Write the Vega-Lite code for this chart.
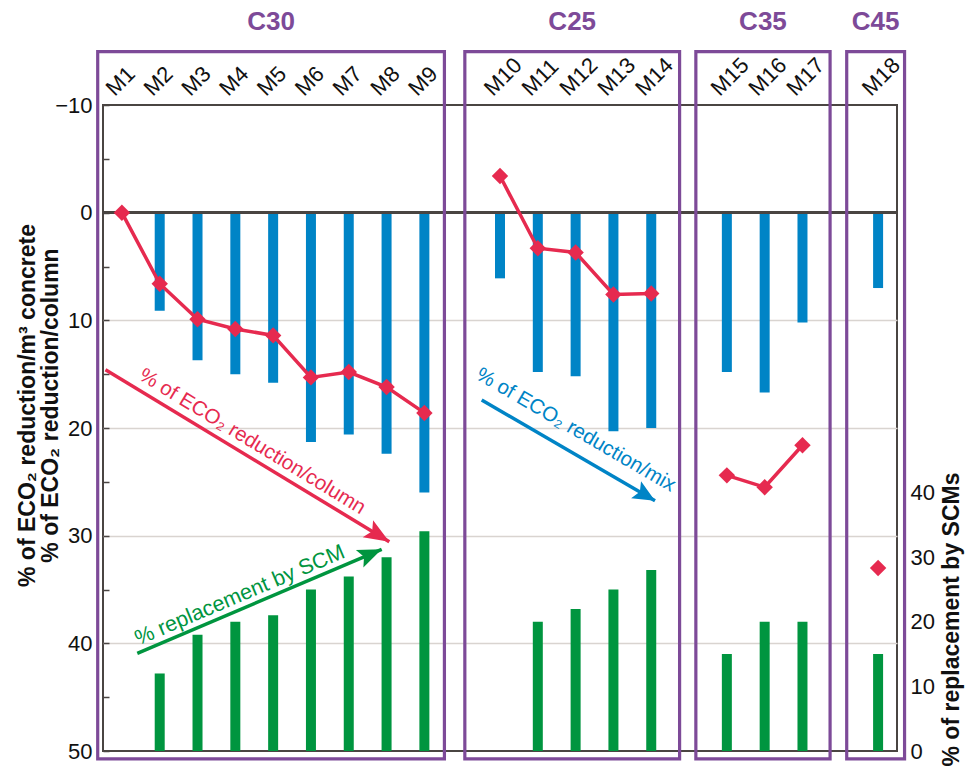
{
  "$schema": "https://vega.github.io/schema/vega-lite/v6.json",
  "width": 794,
  "height": 646,
  "autosize": {"type": "none"},
  "padding": {"left": 103, "top": 105, "right": 76, "bottom": 17},
  "background": "#ffffff",
  "config": {
    "font": "Liberation Sans",
    "view": {"stroke": "#4a4542", "strokeWidth": 2},
    "axis": {"labelFont": "Liberation Sans", "titleFont": "Liberation Sans", "labelColor": "#111111", "titleColor": "#111111"},
    "text": {"font": "Liberation Sans"}
  },
  "datasets": {
    "mixes": [
      {"mix": "M1", "class": "C30", "eco2_mix": null, "eco2_column": 0, "scm_replacement": null},
      {"mix": "M2", "class": "C30", "eco2_mix": 9.1, "eco2_column": 6.6, "scm_replacement": 12},
      {"mix": "M3", "class": "C30", "eco2_mix": 13.7, "eco2_column": 9.9, "scm_replacement": 18},
      {"mix": "M4", "class": "C30", "eco2_mix": 15.0, "eco2_column": 10.8, "scm_replacement": 20},
      {"mix": "M5", "class": "C30", "eco2_mix": 15.8, "eco2_column": 11.4, "scm_replacement": 21},
      {"mix": "M6", "class": "C30", "eco2_mix": 21.3, "eco2_column": 15.3, "scm_replacement": 25},
      {"mix": "M7", "class": "C30", "eco2_mix": 20.6, "eco2_column": 14.8, "scm_replacement": 27},
      {"mix": "M8", "class": "C30", "eco2_mix": 22.4, "eco2_column": 16.2, "scm_replacement": 30},
      {"mix": "M9", "class": "C30", "eco2_mix": 26.0, "eco2_column": 18.6, "scm_replacement": 34},
      {"mix": "M10", "class": "C25", "eco2_mix": 6.1, "eco2_column": -3.4, "scm_replacement": null},
      {"mix": "M11", "class": "C25", "eco2_mix": 14.8, "eco2_column": 3.3, "scm_replacement": 20},
      {"mix": "M12", "class": "C25", "eco2_mix": 15.2, "eco2_column": 3.7, "scm_replacement": 22},
      {"mix": "M13", "class": "C25", "eco2_mix": 20.3, "eco2_column": 7.6, "scm_replacement": 25},
      {"mix": "M14", "class": "C25", "eco2_mix": 20.0, "eco2_column": 7.5, "scm_replacement": 28},
      {"mix": "M15", "class": "C35", "eco2_mix": 14.8, "eco2_column": 24.4, "scm_replacement": 15},
      {"mix": "M16", "class": "C35", "eco2_mix": 16.7, "eco2_column": 25.5, "scm_replacement": 20},
      {"mix": "M17", "class": "C35", "eco2_mix": 10.2, "eco2_column": 21.6, "scm_replacement": 20},
      {"mix": "M18", "class": "C45", "eco2_mix": 7.0, "eco2_column": 33.0, "scm_replacement": 15}
    ],
    "classes": [
      {"class": "C30", "from": 0.36, "to": 9.53, "center": 4.945},
      {"class": "C25", "from": 10.07, "to": 15.75, "center": 12.91},
      {"class": "C35", "from": 16.18, "to": 19.73, "center": 17.955},
      {"class": "C45", "from": 20.17, "to": 21.7, "center": 20.935}
    ],
    "arrows": [
      {"name": "column", "label": "% of ECO₂ reduction/column", "x": 0.566, "y": 14.59, "x2": 8.072, "y2": 30.56, "lx": 4.449, "ly": 21.27},
      {"name": "mix", "label": "% of ECO₂ reduction/mix", "x": 10.516, "y": 17.4, "x2": 15.1, "y2": 26.75, "lx": 13.005, "ly": 20.19},
      {"name": "scm", "label": "% replacement by SCM", "x": 1.407, "y": 40.93, "x2": 7.871, "y2": 31.27, "lx": 4.123, "ly": 35.58}
    ]
  },
  "resolve": {"scale": {"x": "independent", "y": "independent"}},
  "layer": [
    {
      "data": {"name": "mixes"},
      "layer": [
        {
          "mark": {"type": "bar", "color": "#0084C6"},
          "encoding": {
            "x": {
              "field": "mix",
              "type": "ordinal",
              "scale": {
                "type": "band",
                "domain": ["M1", "M2", "M3", "M4", "M5", "M6", "M7", "M8", "M9", "gap1", "M10", "M11", "M12", "M13", "M14", "gap2", "M15", "M16", "M17", "gap3", "M18"],
                "paddingInner": 0.7355,
                "paddingOuter": 0.3677
              },
              "axis": {
                "orient": "top",
                "values": ["M1", "M2", "M3", "M4", "M5", "M6", "M7", "M8", "M9", "M10", "M11", "M12", "M13", "M14", "M15", "M16", "M17", "M18"],
                "domain": false,
                "ticks": false,
                "grid": false,
                "title": null,
                "labelAngle": -45,
                "labelAlign": "left",
                "labelBaseline": "middle",
                "labelOffset": -12,
                "labelPadding": 13.5,
                "labelFontSize": 22,
                "labelOverlap": false,
                "labelBound": false,
                "labelFlush": false
              }
            },
            "y": {
              "field": "eco2_mix",
              "type": "quantitative",
              "scale": {"domain": [-10, 50], "reverse": true, "nice": false, "zero": false},
              "axis": {
                "values": [-10, -5, 0, 5, 10, 15, 20, 25, 30, 35, 40, 45, 50],
                "labelExpr": "datum.value % 10 === 0 ? datum.label : ''",
                "domain": false,
                "ticks": true,
                "tickSize": -6,
                "tickColor": "#4a4542",
                "tickWidth": 1.5,
                "grid": true,
                "gridColor": {"condition": {"test": "datum.value % 10 === 0 && datum.value > 0 && datum.value < 50", "value": "#d9d4d0"}, "value": "transparent"},
                "gridWidth": 1.5,
                "labelFontSize": 22,
                "labelPadding": 17,
                "title": ["% of ECO₂ reduction/m³ concrete", "% of ECO₂ reduction/column"],
                "titleFontSize": 23,
                "titleFontWeight": "bold",
                "titleAngle": 270,
                "titleAlign": "center",
                "titleBaseline": "middle",
                "titleLineHeight": 23,
                "titleX": -75.5,
                "titleY": 300
              }
            },
            "y2": {"datum": 0}
          }
        },
        {
          "mark": {"type": "rule", "color": "#4a4542", "strokeWidth": 2},
          "encoding": {"y": {"datum": 0, "type": "quantitative"}}
        },
        {
          "mark": {"type": "line", "color": "#E62A4F", "strokeWidth": 3.5},
          "encoding": {
            "x": {"field": "mix", "type": "ordinal"},
            "y": {"field": "eco2_column", "type": "quantitative"},
            "detail": {"field": "class", "type": "nominal"}
          }
        },
        {
          "mark": {"type": "point", "shape": "diamond", "filled": true, "size": 270, "color": "#E62A4F", "opacity": 1},
          "encoding": {
            "x": {"field": "mix", "type": "ordinal"},
            "y": {"field": "eco2_column", "type": "quantitative"}
          }
        }
      ]
    },
    {
      "data": {"name": "mixes"},
      "mark": {"type": "bar", "color": "#00953F"},
      "encoding": {
        "x": {
          "field": "mix",
          "type": "ordinal",
          "scale": {
            "type": "band",
            "domain": ["M1", "M2", "M3", "M4", "M5", "M6", "M7", "M8", "M9", "gap1", "M10", "M11", "M12", "M13", "M14", "gap2", "M15", "M16", "M17", "gap3", "M18"],
            "paddingInner": 0.7355,
            "paddingOuter": 0.3677
          },
          "axis": null
        },
        "y": {
          "field": "scm_replacement",
          "type": "quantitative",
          "scale": {"domain": [0, 100], "nice": false},
          "axis": {
            "orient": "right",
            "values": [0, 10, 20, 30, 40],
            "domain": false,
            "ticks": false,
            "grid": false,
            "labelFontSize": 22,
            "labelPadding": 13,
            "title": "% of replacement by SCMs",
            "titleFontSize": 23,
            "titleFontWeight": "bold",
            "titleAngle": 270,
            "titleAlign": "center",
            "titleBaseline": "middle",
            "titleX": 54,
            "titleY": 514
          }
        },
        "y2": {"datum": 0}
      }
    },
    {
      "layer": [
        {
          "data": {"name": "classes"},
          "mark": {"type": "rect", "filled": false, "color": "#7D4A98", "strokeWidth": 3.2},
          "encoding": {
            "x": {"field": "from", "type": "quantitative", "scale": {"domain": [0.5, 21.5], "nice": false, "zero": false}, "axis": null},
            "x2": {"field": "to"},
            "y": {"datum": -14.95, "type": "quantitative", "scale": {"domain": [-10, 50], "reverse": true, "nice": false, "zero": false}, "axis": null},
            "y2": {"datum": 50.74}
          }
        },
        {
          "data": {"name": "classes"},
          "mark": {"type": "text", "fontSize": 26, "fontWeight": "bold", "color": "#7D4A98", "align": "center", "baseline": "middle"},
          "encoding": {
            "x": {"field": "center", "type": "quantitative"},
            "y": {"datum": -17.74, "type": "quantitative"},
            "text": {"field": "class"}
          }
        },
        {
          "data": {"name": "arrows"},
          "mark": {"type": "rule", "strokeWidth": 3.5},
          "encoding": {
            "x": {"field": "x", "type": "quantitative"},
            "y": {"field": "y", "type": "quantitative"},
            "x2": {"field": "x2"},
            "y2": {"field": "y2"},
            "color": {"field": "name", "type": "nominal", "scale": {"domain": ["column", "mix", "scm"], "range": ["#E62A4F", "#0084C6", "#00953F"]}, "legend": null}
          }
        },
        {
          "data": {"name": "arrows"},
          "transform": [{"filter": "datum.name === 'column'"}],
          "mark": {"type": "point", "shape": "M0,0 L-2,-0.8 L-1.6,0 L-2,0.8 Z", "filled": true, "opacity": 1, "size": 625, "angle": 31.2, "color": "#E62A4F"},
          "encoding": {"x": {"field": "x2", "type": "quantitative"}, "y": {"field": "y2", "type": "quantitative"}}
        },
        {
          "data": {"name": "arrows"},
          "transform": [{"filter": "datum.name === 'mix'"}],
          "mark": {"type": "point", "shape": "M0,0 L-2,-0.9 L-1.6,0 L-2,0.9 Z", "filled": true, "opacity": 1, "size": 480, "angle": 30.2, "color": "#0084C6"},
          "encoding": {"x": {"field": "x2", "type": "quantitative"}, "y": {"field": "y2", "type": "quantitative"}}
        },
        {
          "data": {"name": "arrows"},
          "transform": [{"filter": "datum.name === 'scm'"}],
          "mark": {"type": "point", "shape": "M0,0 L-2,-0.8 L-1.6,0 L-2,0.8 Z", "filled": true, "opacity": 1, "size": 576, "angle": -23.05, "color": "#00953F"},
          "encoding": {"x": {"field": "x2", "type": "quantitative"}, "y": {"field": "y2", "type": "quantitative"}}
        },
        {
          "data": {"name": "arrows"},
          "transform": [{"filter": "datum.name === 'column'"}],
          "mark": {"type": "text", "fontSize": 20.5, "angle": 31.4, "color": "#E62A4F", "align": "center", "baseline": "middle"},
          "encoding": {"x": {"field": "lx", "type": "quantitative"}, "y": {"field": "ly", "type": "quantitative"}, "text": {"field": "label"}}
        },
        {
          "data": {"name": "arrows"},
          "transform": [{"filter": "datum.name === 'mix'"}],
          "mark": {"type": "text", "fontSize": 20.5, "angle": 30.2, "color": "#0084C6", "align": "center", "baseline": "middle"},
          "encoding": {"x": {"field": "lx", "type": "quantitative"}, "y": {"field": "ly", "type": "quantitative"}, "text": {"field": "label"}}
        },
        {
          "data": {"name": "arrows"},
          "transform": [{"filter": "datum.name === 'scm'"}],
          "mark": {"type": "text", "fontSize": 21.5, "angle": -23.05, "color": "#00953F", "align": "center", "baseline": "middle"},
          "encoding": {"x": {"field": "lx", "type": "quantitative"}, "y": {"field": "ly", "type": "quantitative"}, "text": {"field": "label"}}
        }
      ]
    }
  ]
}
